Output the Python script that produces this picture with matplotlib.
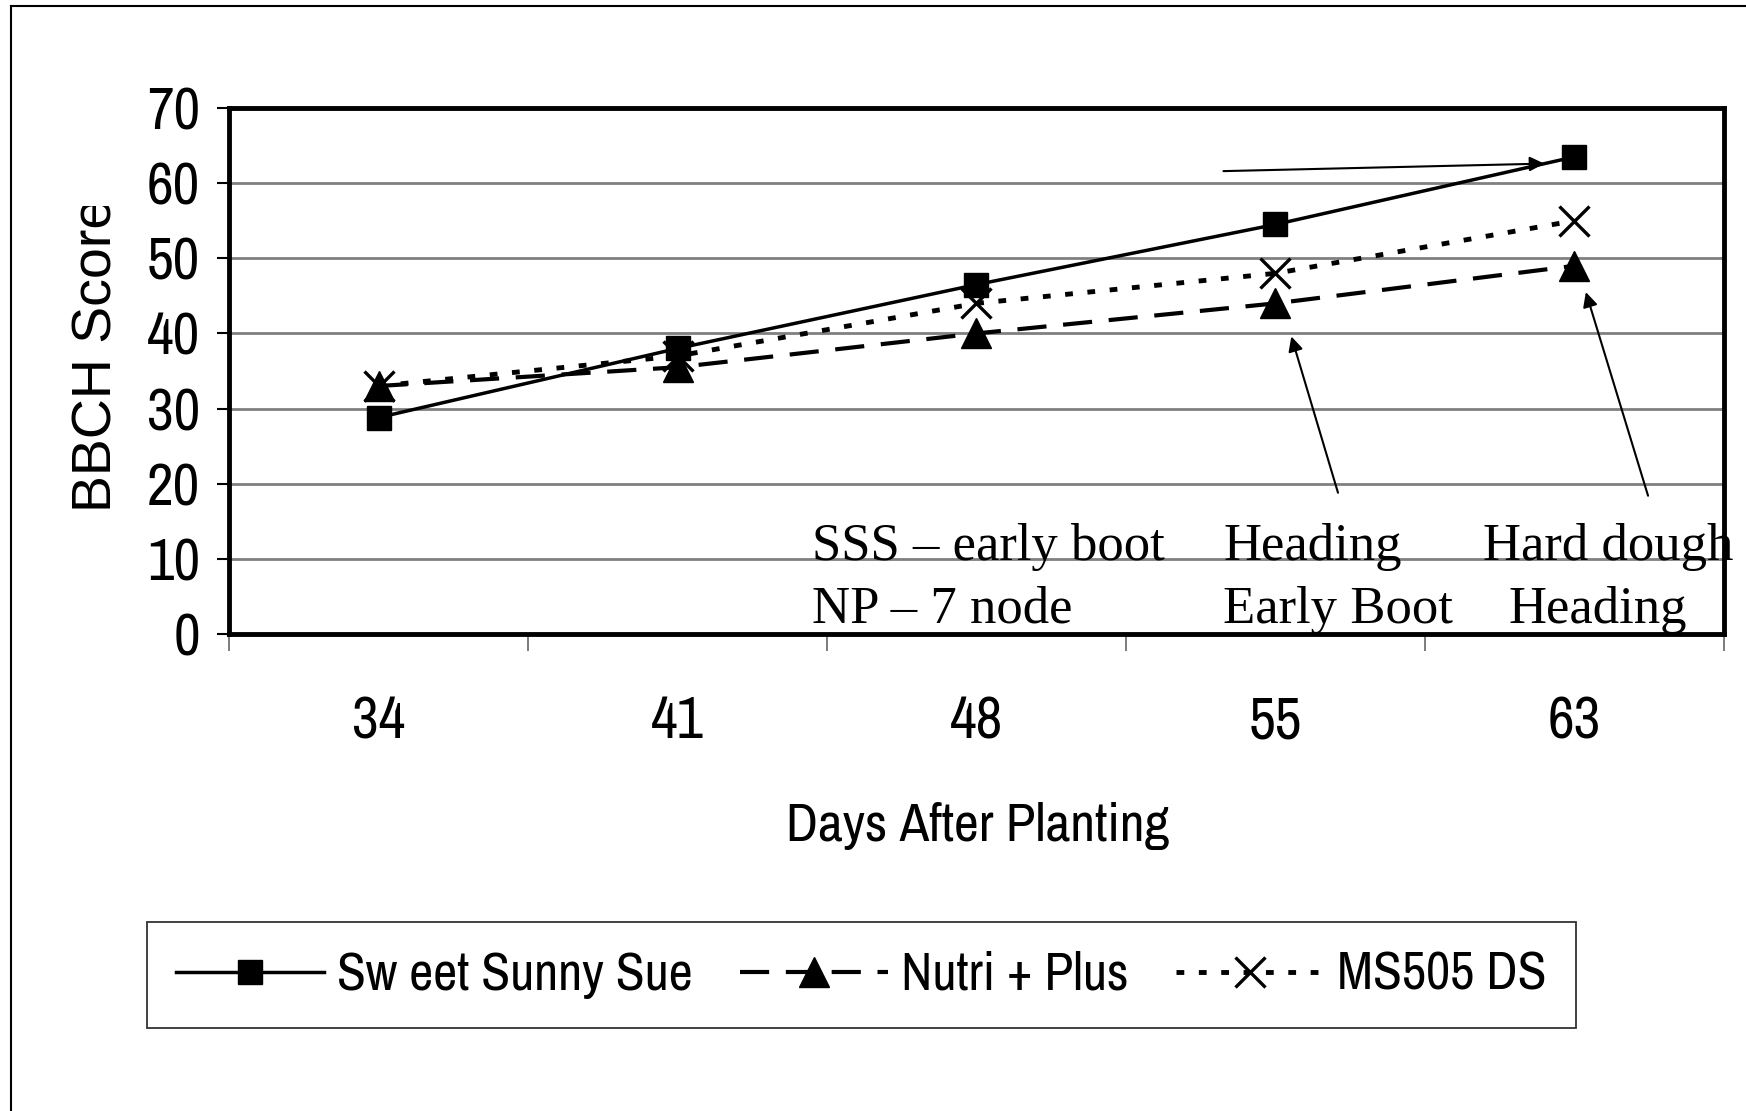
import matplotlib
matplotlib.use('Agg')
import matplotlib.pyplot as plt
from matplotlib.lines import Line2D
from matplotlib.transforms import Bbox, TransformedBbox

days = ["34", "41", "48", "55", "63"]
sss = [28.8, 38.0, 46.5, 54.5, 63.5]
nutri = [33.0, 35.5, 40.0, 44.0, 49.0]
ms505 = [33.0, 37.0, 44.0, 48.0, 55.0]
names = ["Sw eet Sunny Sue", "Nutri + Plus", "MS505 DS"]
yticks = [0, 10, 20, 30, 40, 50, 60, 70]

narrow = ['Archivo Narrow', 'DejaVu Sans']
serif = ['Liberation Serif', 'DejaVu Serif']

fig = plt.figure(figsize=(17.46, 11.11), dpi=100)
ax = fig.add_axes([229/1746, 1 - 634/1111, (1724 - 229)/1746, (634 - 108)/1111])

x = list(range(len(days)))
ax.plot(x, sss, color='black', lw=2.5, ls='-', marker='s', ms=17,
        mfc='black', mec='black', label=names[0], zorder=4)
ax.plot(x, nutri, color='black', lw=3.0, ls=(0, (7, 4)), marker='^', ms=21,
        mfc='black', mec='black', label=names[1], zorder=3)
ax.plot(x, ms505, color='black', lw=3.5, ls=(0, (1.6, 3)), marker='x', ms=22,
        mew=2.4, mec='black', label=names[2], zorder=3)

ax.set_xlim(-0.5, 4.5)
ax.set_ylim(0, 70)
ax.set_yticks(yticks)
ax.set_yticklabels([str(v) for v in yticks], family=narrow, fontsize=42)
ax.set_xticks(x)
ax.set_xticklabels(days, family=narrow, fontsize=42)
ax.set_xticks([i - 0.5 for i in range(len(days) + 1)], minor=True)
ax.tick_params(axis='x', which='major', length=0, pad=44)
ax.tick_params(axis='x', which='minor', length=12, width=1.2, color='#666666', direction='out')
ax.tick_params(axis='y', which='major', length=9, width=1.5, direction='out', pad=12)
ax.yaxis.grid(True, color='#808080', lw=2)
ax.set_axisbelow(True)
for s in ax.spines.values():
    s.set_linewidth(3.5)
    s.set_color('black')

# stage annotations
ax.text(1.45, 9.9, "SSS \u2013 early boot", family=serif, fontsize=38, va='baseline')
ax.text(1.45, 1.5, "NP \u2013 7 node", family=serif, fontsize=38, va='baseline')
ax.text(2.826, 9.9, "Heading", family=serif, fontsize=38, va='baseline')
ax.text(2.826, 1.5, "Early Boot", family=serif, fontsize=38, va='baseline')
ax.text(3.694, 9.9, "Hard dough", family=serif, fontsize=38, va='baseline')
ax.text(3.78, 1.5, "Heading", family=serif, fontsize=38, va='baseline')

arrow = dict(arrowstyle='-|>', color='black', lw=1.5, mutation_scale=22, shrinkA=0, shrinkB=0)
ax.annotate("", xy=(3.899, 62.6), xytext=(2.826, 61.6), arrowprops=arrow)
ax.annotate("", xy=(3.053, 39.6), xytext=(3.209, 18.8), arrowprops=arrow)
ax.annotate("", xy=(4.038, 45.5), xytext=(4.246, 18.4), arrowprops=arrow)

fig.text(978/1746, 1 - 826/1111, "Days After Planting", family=narrow, fontsize=39,
         ha='center', va='center')

yl = fig.text(98/1746, 1 - 512/1111, "BBCH Score", family=['Liberation Sans', 'DejaVu Sans'],
              fontsize=40, rotation=90, ha='center', va='bottom')
yl.set_clip_box(TransformedBbox(Bbox([[0, 0], [1, 1 - 206/1111]]), fig.transFigure))
yl.set_clip_on(True)

leg = fig.legend(loc='center', bbox_to_anchor=(0.4934, 1 - 975/1111), ncol=3,
                 prop={'family': narrow, 'size': 38}, handlelength=2.8,
                 handletextpad=0.25, columnspacing=0.9, borderpad=0.55,
                 fancybox=False, frameon=True)
leg.get_frame().set_edgecolor('black')
leg.get_frame().set_linewidth(1.3)

# outer chart frame
fig.add_artist(Line2D([11/1746, 11/1746], [0, 1 - 6/1111], color='black', lw=1.5,
                      transform=fig.transFigure))
fig.add_artist(Line2D([11/1746, 1], [1 - 6/1111, 1 - 6/1111], color='black', lw=1.5,
                      transform=fig.transFigure))

fig.savefig("out.png", dpi=100, facecolor='white')
